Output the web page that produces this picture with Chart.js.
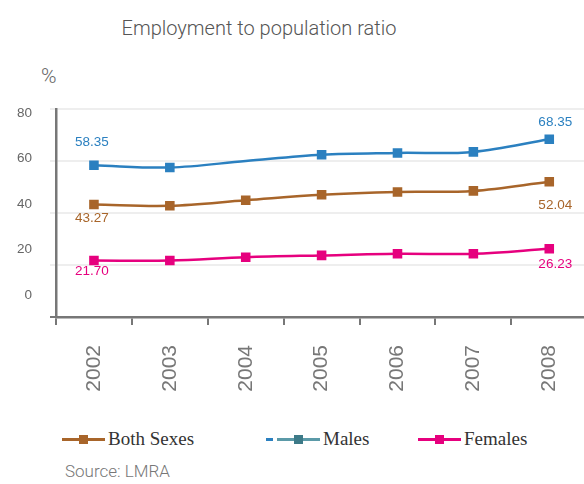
<!DOCTYPE html>
<html>
<head>
<meta charset="utf-8">
<script src="https://cdn.jsdelivr.net/npm/chart.js@4/dist/chart.umd.min.js"></script>
<style>
  body { margin: 0; background: #fff; }
  #wrap { position: relative; width: 584px; height: 484px; overflow: hidden; }
  #title { position: absolute; top: 16px; left: 0; width: 518px; text-align: center;
           font: 300 20px Roboto, sans-serif; color: #555; }
  #unit { position: absolute; top: 64px; left: 41px; font: 300 21px Roboto, sans-serif; color: #666; }
  #box { position: absolute; top: 0; left: 0; width: 595px; height: 420px; }
  #legend { position: absolute; top: 427px; left: 0; width: 584px; height: 24px;
            font: 19px "Liberation Serif", serif; color: #333; }
  .item { position: absolute; top: 0; height: 24px; line-height: 24px; white-space: nowrap; }
  .icon { position: absolute; top: 11px; height: 3px; }
  .sq { position: absolute; top: -3px; width: 9px; height: 9px; }
  #source { position: absolute; top: 461px; left: 65px; font: 300 17px Roboto, sans-serif; color: #777; }
</style>
</head>
<body>
<div id="wrap">
  <div id="title">Employment to population ratio</div>
  <div id="unit">%</div>
  <div id="box"><canvas id="graph"></canvas></div>
  <div id="legend">
    <div class="item" style="left:62px"><div class="icon" style="left:0;width:43px;background:#a8652a"><div class="sq" style="left:17px;background:#a8652a"></div></div><span style="margin-left:46px">Both Sexes</span></div>
    <div class="item" style="left:266px"><div class="icon" style="left:0;width:7px;background:#2b80c0"></div><div class="icon" style="left:11px;width:43px;background:#5b9aa8"><div class="sq" style="left:17px;background:#3d7a88"></div></div><span style="margin-left:57px">Males</span></div>
    <div class="item" style="left:418px"><div class="icon" style="left:0;width:43px;background:#e6007e"><div class="sq" style="left:17px;background:#e6007e"></div></div><span style="margin-left:46px">Females</span></div>
  </div>
  <div id="source">Source: LMRA</div>
</div>
<script>
const years = ['2002', '2003', '2004', '2005', '2006', '2007', '2008']
const yTicks = [0, 20, 40, 60, 80]

// values, ends from the printed labels
const males = [58.35, 57.5, 60.0, 62.4, 63.1, 63.5, 68.35]
const bothSexes = [43.27, 42.8, 44.9, 47.0, 48.1, 48.5, 52.04]
const females = [21.70, 21.7, 23.0, 23.7, 24.3, 24.3, 26.23]

const malesLabels = ['58.35', null, null, null, null, null, '68.35']
const bothLabels = ['43.27', null, null, null, null, null, '52.04']
const femalesLabels = ['21.70', null, null, null, null, null, '26.23']

const ctx = document.querySelector('#graph').getContext('2d')

// prints the end values next to the points
const pointLabels = {
    id: 'pointLabels',
    afterDatasetsDraw(chart) {
        const c = chart.ctx
        c.save()
        c.font = '13.5px "Liberation Sans", Arial, sans-serif'
        c.textAlign = 'center'
        c.textBaseline = 'middle'
        chart.data.datasets.forEach((ds, i) => {
            const meta = chart.getDatasetMeta(i)
            ds.endLabels.forEach((txt, j) => {
                if (!txt) return
                const pt = meta.data[j]
                const dx = j === 0 ? -2 : 6
                c.fillStyle = ds.borderColor
                c.fillText(txt, pt.x + dx, pt.y + ds.labelDy[j === 0 ? 0 : 1])
            })
        })
        c.restore()
    }
}

const line = (label, data, color, labels, dy, radius) => ({
    label, data,
    borderColor: color,
    backgroundColor: color,
    borderWidth: 2.5,
    pointStyle: 'rect',
    pointRadius: radius || 5,
    pointHoverRadius: 5,
    tension: 0.35,
    fill: false,
    endLabels: labels,
    labelDy: dy
})

new Chart(ctx, {
    type: 'line',
    data: {
        labels: years,
        datasets: [
            line('Males', males, '#2b80c0', malesLabels, [-23, -17], [5, 5, 0, 5, 5, 5, 5]),
            line('Both Sexes', bothSexes, '#a8652a', bothLabels, [14, 24]),
            line('Females', females, '#e6007e', femalesLabels, [11, 15])
        ]
    },
    options: {
        responsive: true,
        maintainAspectRatio: false,
        animation: false,
        layout: { padding: { top: 109, left: 0, right: 0, bottom: 0 } },
        plugins: { legend: { display: false }, tooltip: { enabled: false } },
        scales: {
            x: {
                offset: true,
                grid: { drawOnChartArea: false, offset: true, tickLength: 8, color: '#777', lineWidth: 2 },
                border: { color: '#777', width: 2.5 },
                ticks: { minRotation: 90, maxRotation: 90, padding: 20, color: '#777',
                         font: { family: '"Liberation Sans", Arial, sans-serif', size: 21 } },
                afterFit: s => { s.height = 103 }
            },
            y: {
                min: 0, max: 80,
                weight: 0,
                afterBuildTicks: s => { s.ticks = yTicks.map(v => ({ value: v })) },
                grid: { color: '#eeeeee', lineWidth: 2, tickLength: 6,
                        tickColor: c => c.tick && c.tick.value === 0 ? '#777' : '#eeeeee' },
                border: { color: '#777', width: 2.5 },
                ticks: { display: false },
                afterFit: s => { s.width = 0 }
            },
            // label axis: the printed labels sit a bit off the grid lines
            yLabels: {
                position: 'left',
                weight: 1,
                min: -9.5, max: 81.7,
                afterBuildTicks: s => { s.ticks = yTicks.map(v => ({ value: v })) },
                grid: { display: false, drawTicks: false },
                border: { display: false },
                ticks: { padding: 24, color: '#666',
                         font: { family: '"Liberation Sans", Arial, sans-serif', size: 13.5 } },
                afterFit: s => { s.width = 56 }
            }
        }
    },
    plugins: [pointLabels]
})
</script>
</body>
</html>
